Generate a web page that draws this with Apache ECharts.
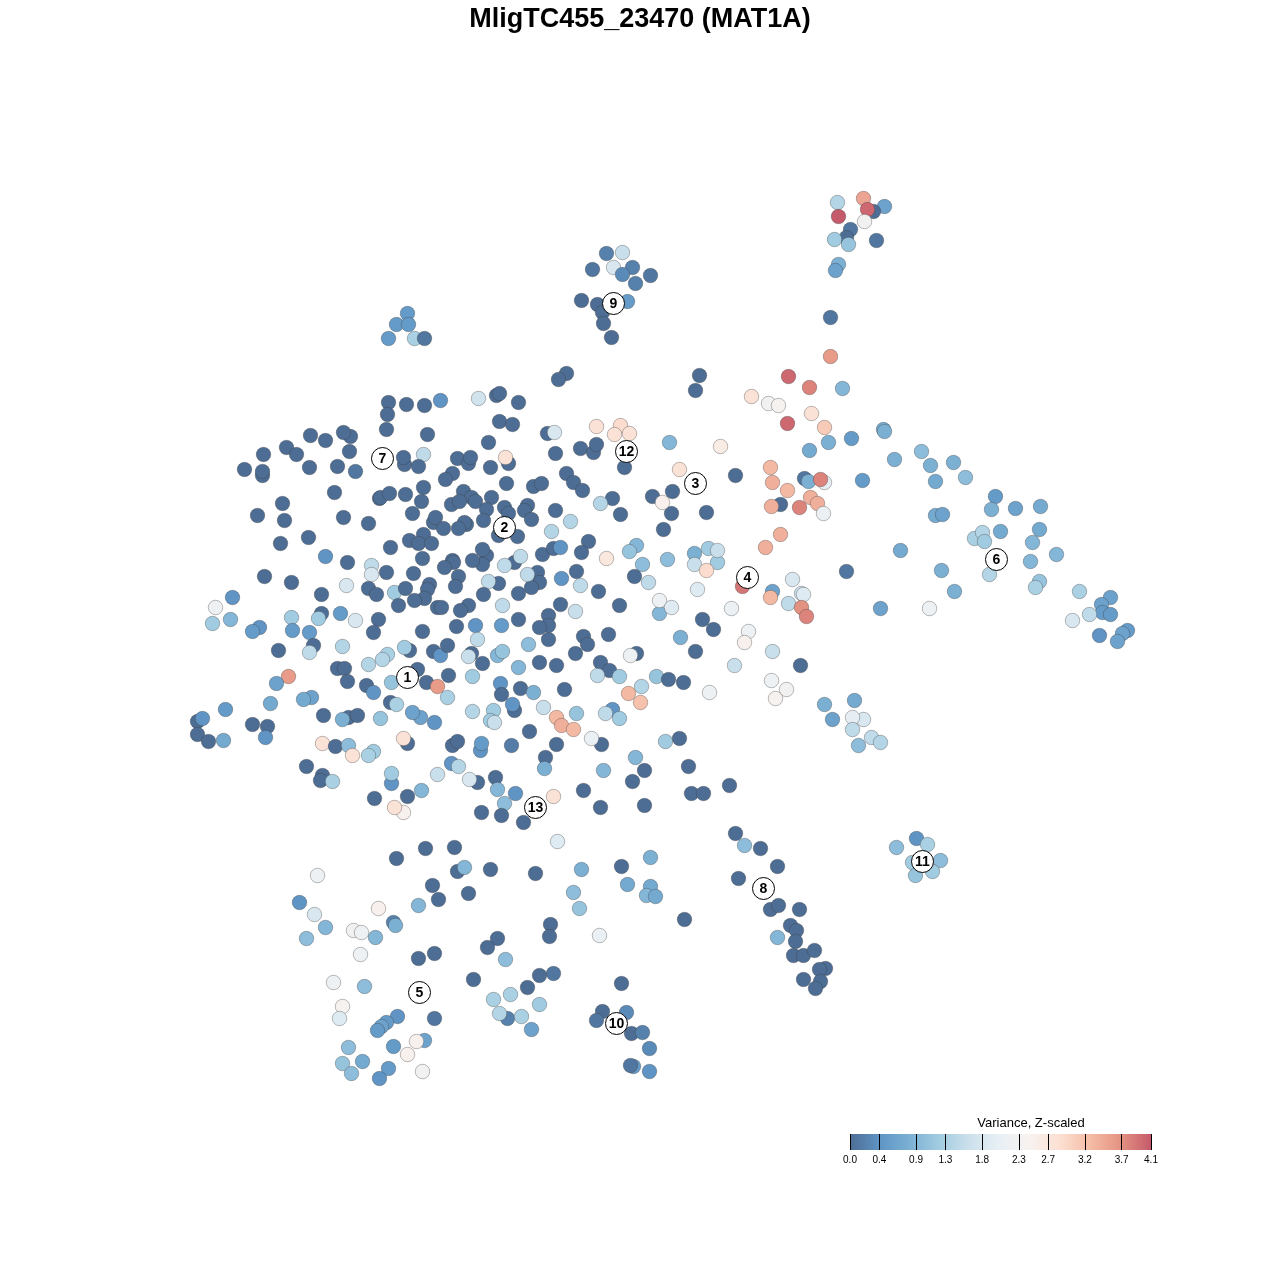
<!DOCTYPE html>
<html><head><meta charset="utf-8">
<script src="https://cdn.jsdelivr.net/npm/echarts@6/dist/echarts.min.js"></script>
<style>html,body{margin:0;padding:0;background:#fff}#c{width:1280px;height:1280px}</style>
</head><body><div id="c"></div>
<script>
const chartTitle = "MligTC455_23470 (MAT1A)";
const legendTitle = "Variance, Z-scaled";
const legendTicks = [0.0,0.4,0.9,1.3,1.8,2.3,2.7,3.2,3.7,4.1];
const rampColors = ['#4d6d94','#5f95c5','#7cb1d4','#a3cde1','#cde1ec','#e9f0f5','#f8f2ef','#fcdfd1','#f5bba4','#e49282','#c55a6b'];
const clusterIds = ['1','2','3','4','5','6','7','8','9','10','11','12','13'];
const clusterX = [407,504,695,747,419,996,382,763,613,616,922,626,535];
const clusterY = [677,527,483,577,992,559,458,888,303,1023,861,451,807];

const topRight = [[863,198,3.5],[837,202,1.4],[884,206,.6],[873,211,0],[867,209,4],[838,216,4.1],[864,221,2.3],[850,229,.1],[846,237,0],[834,239,1.2],[848,244,1.1],[876,240,.1],[838,264,.8],[835,270,.6],[830,317,.1],[830,356,3.6],[788,376,4],[809,387,3.8],[842,388,.9],[751,396,2.8],[768,403,2.3],[778,405,2.4],[811,413,2.8],[787,423,4],[824,427,3.1],[828,442,.8],[851,438,.5],[883,429,.7],[884,431,.8],[809,450,.7]];
const rightArm = [[894,459,.8],[921,451,1],[930,465,.8],[953,462,.8],[965,477,1],[935,481,.7],[862,480,.5],[995,496,.5],[1015,508,.6],[1040,506,.7],[991,509,.8],[935,515,.7],[942,514,.6],[1000,531,.7],[1039,529,.7],[1032,542,.9],[1056,554,.9],[974,538,1.3],[982,532,1.4],[984,541,1.2],[1030,561,.9],[900,550,.7],[941,570,.8],[989,574,1.4],[1039,581,1.1],[1035,587,1.3],[954,591,.8],[880,608,.6],[929,608,2.2],[1079,591,1.3],[1110,597,.6],[1101,604,.6],[1102,612,.5],[1110,614,.5],[1089,614,1.5],[1072,620,1.8],[1127,630,.5],[1122,633,.6],[1099,635,.4],[1117,641,.6]];
const cluster9 = [[606,253,.2],[622,252,1.6],[613,267,1.8],[592,269,.1],[632,267,.2],[622,274,.3],[650,275,.1],[635,283,.2],[581,300,0],[597,304,0],[627,301,.5],[602,312,0],[603,323,0],[611,337,0]];
const upperLeft = [[407,313,.5],[396,324,.5],[408,324,.5],[388,338,.5],[414,338,1.3],[424,338,.1],[566,373,0],[558,379,0],[699,375,0],[695,390,0]];
const mainNW = [[388,402,0],[406,404,0],[424,405,0],[440,400,.4],[387,414,0],[386,429,0],[427,434,0],[310,435,0],[325,440,0],[350,436,0],[343,432,0],[263,454,0],[286,447,0],[296,454,0],[349,451,0],[404,464,0],[403,457,0],[423,454,1.5],[418,466,0],[244,469,0],[262,475,0],[262,471,0],[309,467,0],[337,466,0],[355,471,.1],[334,492,0],[379,498,0],[380,497,0],[389,493,0],[405,494,0],[423,487,0],[421,501,0],[282,503,0],[412,513,0],[433,522,0],[435,517,0],[257,515,0],[284,520,0],[343,517,0],[368,523,0],[308,537,0],[280,543,0],[409,540,0],[423,534,0],[418,543,0],[431,543,0],[390,547,0],[422,558,0],[325,556,.4],[347,562,0],[371,565,1.5],[371,574,1.8],[386,572,0],[413,573,0],[264,576,0],[291,582,0],[346,585,1.8],[368,588,0],[376,594,0],[394,592,1.2],[405,588,0],[429,584,0],[427,589,0],[424,598,0],[414,600,0],[398,605,0],[437,607,0],[321,594,0],[232,597,.4],[215,607,2.2],[321,613,0],[318,618,1.2],[291,617,1.2],[340,613,.5],[355,620,1.8],[378,619,0],[373,632,0],[422,631,0],[212,623,1.2],[230,619,.9],[259,627,.4],[252,631,.5],[292,630,.5],[309,632,.5],[313,645,0],[309,652,1.5],[342,646,1.4],[278,650,0],[409,650,0],[404,647,1.2],[387,654,1.3],[382,659,1.4],[368,664,1.4],[433,651,0],[440,655,.4],[337,668,0],[344,668,0],[417,669,0],[347,681,0]];
const mainSW = [[288,676,3.6],[276,683,.6],[270,703,.7],[311,697,.6],[303,699,.7],[225,709,.5],[197,721,0],[202,718,.4],[197,734,0],[208,741,0],[223,740,.7],[252,724,0],[267,726,0],[265,737,.4],[366,685,0],[373,692,.4],[391,682,1.1],[426,682,0],[437,686,3.6],[390,702,0],[396,704,1.3],[420,717,.6],[412,712,.6],[434,722,.4],[323,715,0],[348,717,0],[342,719,.8],[357,715,0],[380,718,1.1],[322,743,2.8],[335,746,0],[348,745,1],[352,755,2.8],[373,751,1.2],[368,755,1.3],[407,743,0],[403,738,2.8],[306,766,0],[322,775,0],[320,780,0],[332,781,1.3],[391,783,.4],[391,773,1.2],[374,798,0],[407,796,0],[421,790,.9],[403,812,2.5],[394,807,2.8],[437,774,1.6]];
const mainNE = [[478,398,1.7],[496,395,0],[499,393,0],[518,402,0],[499,421,0],[512,424,0],[547,433,0],[554,432,1.8],[596,426,2.8],[620,425,2.9],[614,434,2.8],[629,433,2.8],[488,442,0],[555,453,0],[580,448,0],[593,452,0],[596,444,0],[624,467,0],[669,442,.9],[720,446,2.6],[457,458,0],[468,463,0],[470,457,0],[490,467,0],[508,463,0],[505,457,2.8],[452,473,0],[445,479,0],[506,483,0],[533,486,0],[541,483,0],[566,473,0],[573,482,0],[582,490,0],[679,469,2.8],[735,475,0],[463,491,0],[471,497,0],[475,501,0],[451,504,0],[459,501,0],[491,497,0],[504,507,0],[508,513,0],[486,509,0],[483,520,0],[466,524,0],[464,522,0],[458,528,0],[443,528,0],[527,505,0],[524,510,0],[531,519,0],[555,510,0],[612,498,0],[600,503,1.4],[652,496,0],[672,491,0],[671,513,0],[662,502,2.5],[620,514,0],[706,512,0],[498,535,0],[517,536,0],[551,531,1.4],[570,521,1.4],[663,529,0],[588,541,0],[581,552,0],[606,558,2.7],[542,554,0],[553,548,0],[560,547,.4],[514,562,0],[520,556,1.5],[504,565,1.5],[486,555,0],[482,549,0],[482,564,0],[472,560,0],[452,560,0],[453,562,0],[444,567,0],[636,545,.9],[629,551,1.1],[642,564,1],[667,559,1],[694,553,.8],[708,548,1.2],[717,562,1.2],[717,550,1.6],[694,564,1.6],[706,570,2.9],[537,572,0],[539,582,0],[531,587,0],[527,574,1.5],[498,583,0],[488,581,1.5],[576,571,0],[561,578,.4],[580,585,1.5],[634,576,0],[648,582,1.5],[458,576,0],[455,586,0],[483,594,0],[518,593,0],[598,591,0],[697,589,1.9],[502,605,1.5],[560,604,0],[575,611,1.6],[619,605,0],[659,613,.9],[659,600,2.2],[671,607,1.9],[731,608,2.1],[468,605,0],[460,610,0],[441,607,0],[702,619,0],[713,629,0],[518,619,0],[548,615,0],[548,625,0],[539,627,0],[456,626,0],[475,625,.4],[501,625,.5],[477,639,1.5],[447,645,0],[471,653,0],[468,656,1.6],[482,663,0],[497,655,.9],[502,651,1.1],[528,644,1],[548,639,0],[583,636,0],[587,644,0],[608,634,0],[575,653,0],[539,662,0],[556,665,0],[518,667,.9],[600,662,0],[609,670,0],[597,675,1.5],[619,676,1.2],[636,653,0],[630,655,2.2],[680,637,.8],[695,651,0],[734,665,1.6],[472,676,1.2],[448,675,0]];
const mainSE = [[656,676,1.1],[668,679,0],[683,682,0],[709,692,2.2],[500,683,.4],[501,694,0],[520,688,0],[533,692,.8],[564,689,0],[641,686,1.4],[628,693,3.3],[640,702,3.2],[447,697,1.3],[472,711,1.4],[493,710,1.2],[490,720,1.2],[494,722,1.6],[514,710,0],[512,704,.4],[543,707,1.6],[556,717,3.3],[561,725,3.4],[573,729,3.3],[576,713,1.1],[612,709,.4],[605,713,1.5],[619,718,1.2],[529,731,0],[601,744,0],[591,738,2.1],[665,741,1.2],[679,738,0],[556,744,0],[511,745,.15],[452,745,0],[457,741,0],[480,750,.4],[481,743,.5],[545,757,0],[544,768,.8],[635,757,.9],[603,770,.9],[644,770,0],[688,766,0],[632,781,0],[451,763,.4],[458,766,1.4],[495,777,0],[477,782,0],[469,779,1.8],[497,789,.9],[515,793,.4],[504,803,1],[553,796,2.8],[583,790,0],[691,793,0],[703,793,0],[729,785,0],[481,812,0],[501,815,0],[523,822,0],[600,807,0],[644,805,0],[557,841,1.9]];
const rightMid = [[770,467,3.3],[772,482,3.4],[787,490,3.3],[804,478,.1],[824,482,2],[808,481,.8],[820,479,3.8],[810,497,3.4],[817,503,3.4],[780,504,0],[771,506,3.4],[799,507,3.8],[823,513,2.1],[765,547,3.4],[780,534,3.4],[846,571,.1],[742,586,3.9],[772,591,.6],[770,597,3.3],[792,579,1.8],[801,593,1.6],[803,594,1.9],[788,603,1.5],[801,607,3.7],[806,616,3.8],[748,631,2.2],[744,642,2.5],[772,651,1.6],[800,665,0],[771,680,2.2],[786,689,2.3],[775,698,2.4],[824,704,.8],[854,700,.7],[832,719,.6],[863,719,1.8],[852,717,2],[852,729,1.5],[871,737,1.5],[880,742,1.4],[858,745,1]];
const cluster8 = [[735,833,0],[744,845,1],[760,848,0],[777,866,0],[738,878,0],[770,909,0],[778,905,0],[799,909,0],[790,925,0],[777,937,.9],[796,930,0],[795,941,0],[793,955,0],[803,955,0],[814,950,0],[825,968,0],[819,969,0],[803,979,0],[820,981,0],[815,988,0]];
const cluster11 = [[916,838,.4],[927,844,1.3],[896,847,1],[912,862,1.2],[940,860,1],[915,875,1.1],[932,871,1.2]];
const lowerMid = [[396,858,0],[425,848,0],[454,847,0],[457,871,0],[464,867,.9],[490,869,0],[535,873,0],[581,869,.8],[621,866,0],[650,857,.8],[432,885,0],[468,893,0],[438,899,0],[418,905,.9],[573,892,1],[579,908,1.1],[627,884,.7],[650,886,.7],[646,895,.9],[655,896,.7],[684,919,0],[550,924,0],[549,936,0],[599,935,2.1],[497,938,0],[487,947,0],[505,959,1],[434,953,0],[418,958,0],[553,973,.1],[539,975,0],[473,979,0],[527,987,0],[621,983,0],[510,994,1.3],[493,999,1.3],[539,1004,1.2],[507,1018,.2],[499,1013,1.4],[521,1016,1.3],[531,1029,.6],[602,1011,0],[626,1012,.3],[596,1020,.1],[631,1033,0],[642,1032,.2],[649,1048,.3],[633,1066,.5],[630,1065,.1],[649,1071,.4]];
const lowerLeft = [[317,875,2.2],[299,902,.4],[314,914,1.8],[378,908,2.5],[393,922,.2],[395,925,.8],[325,927,.9],[306,938,1],[353,930,2.3],[361,932,2.2],[375,937,.9],[360,954,2.2],[333,982,2.2],[364,986,1],[342,1006,2.4],[339,1018,1.9],[397,1016,.4],[386,1022,.5],[381,1026,.6],[377,1030,.5],[434,1018,.1],[424,1040,.6],[416,1041,2.5],[393,1046,.5],[348,1047,1],[407,1054,2.5],[342,1063,1.1],[362,1061,.7],[388,1068,.5],[351,1073,1],[379,1078,.4],[422,1071,2.3]];

const points = [].concat(topRight,rightArm,cluster9,upperLeft,mainNW,mainSW,mainNE,mainSE,rightMid,cluster8,cluster11,lowerMid,lowerLeft);
const clusters = clusterIds.map((id,i)=>({name:id,value:[clusterX[i],clusterY[i]]}));
const chart = echarts.init(document.getElementById('c'),null,{renderer:'canvas'});
const font = '"Liberation Sans",Arial,sans-serif';
chart.setOption({
  animation:false,
  backgroundColor:'#fff',
  title:[
    {text:chartTitle,left:640,textAlign:'center',top:6,padding:0,textStyle:{fontFamily:font,fontWeight:'bold',fontSize:27,lineHeight:27,color:'#000'}},
    {text:legendTitle,left:1031,textAlign:'center',top:1117,padding:0,textStyle:{fontFamily:font,fontWeight:'normal',fontSize:13,lineHeight:13,color:'#000'}}
  ],
  grid:[
    {left:0,top:0,width:1280,height:1280,show:false},
    {left:850,top:1134,width:301,height:16,show:true,borderWidth:0,
     backgroundColor:new echarts.graphic.LinearGradient(0,0,1,0,rampColors.map((c,i)=>({offset:i/(rampColors.length-1),color:c})))}
  ],
  xAxis:[
    {type:'value',gridIndex:0,min:-0.5,max:1279.5,show:false},
    {type:'value',gridIndex:1,min:0,max:4.1,position:'bottom',
     axisLine:{show:false},splitLine:{show:false},
     axisTick:{show:true,inside:true,length:16,customValues:legendTicks,lineStyle:{color:'#000',width:1}},
     axisLabel:{show:true,margin:5,fontSize:10,color:'#000',fontFamily:font,customValues:legendTicks,formatter:v=>v.toFixed(1),showMinLabel:true,showMaxLabel:true,hideOverlap:false}}
  ],
  yAxis:[
    {type:'value',gridIndex:0,min:-0.5,max:1279.5,inverse:true,show:false},
    {type:'value',gridIndex:1,min:0,max:1,show:false}
  ],
  visualMap:{show:false,type:'continuous',seriesIndex:0,dimension:2,min:0,max:4.1,inRange:{color:rampColors}},
  series:[
    {type:'scatter',xAxisIndex:0,yAxisIndex:0,symbolSize:14.5,data:points,silent:true,
     itemStyle:{borderColor:'rgba(60,60,60,0.35)',borderWidth:1,opacity:1}},
    {type:'scatter',xAxisIndex:0,yAxisIndex:0,symbolSize:22,data:clusters,silent:true,z:5,
     itemStyle:{color:'#fff',borderColor:'#000',borderWidth:1,opacity:1},
     label:{show:true,position:'inside',offset:[0,1],formatter:p=>p.name,fontFamily:font,fontWeight:'bold',fontSize:14,color:'#000'}}
  ]
});
</script></body></html>
